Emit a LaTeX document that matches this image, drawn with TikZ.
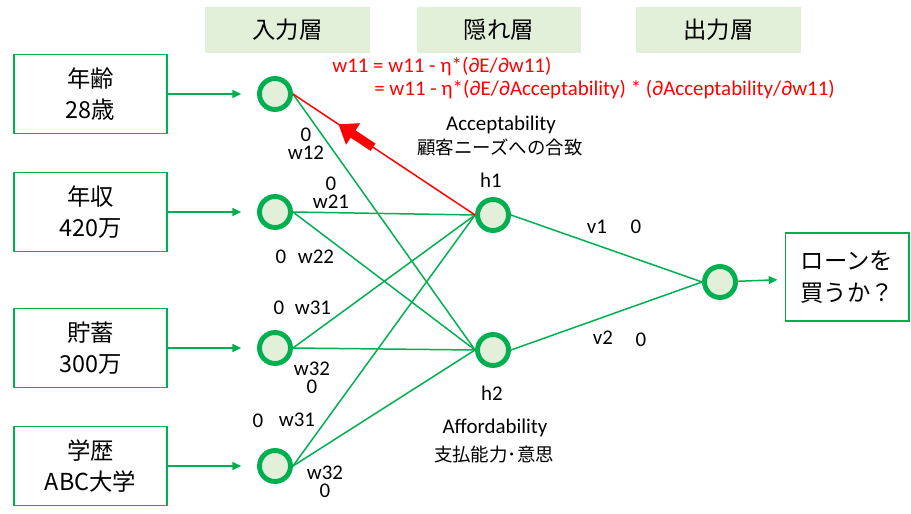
\documentclass[tikz,border=0pt]{standalone}
\usepackage{fontspec}
\setmainfont{Carlito}
\newfontfamily\jp{Noto Sans CJK JP}
\usetikzlibrary{calc, positioning, arrows.meta, shapes}
\definecolor{nngreen}{RGB}{0,176,80}
\definecolor{nnfill}{RGB}{226,240,217}
\definecolor{nnred}{RGB}{255,0,0}

\begin{document}
\begin{tikzpicture}[x=0.02cm, y=-0.02cm,
  neu/.style={circle, draw=nngreen, fill=nnfill, line width=2.8pt, minimum size=0.62cm, inner sep=0pt},
  inbox/.style={draw=nngreen, line width=0.6pt, minimum width=3.06cm, minimum height=1.58cm, align=center, font=\jp\fontsize{13.3}{18}\selectfont},
  layer/.style={fill=nnfill, minimum width=3.3cm, minimum height=0.92cm, font=\jp\fontsize{13.3}{15}\selectfont},
  wt/.style={font=\fontsize{11.9}{10.4}\selectfont, inner sep=0pt, align=center},
  note/.style={font=\jp\fontsize{10.5}{13}\selectfont, inner sep=0pt},
  link/.style={nngreen, line width=0.85pt},
  feed/.style={nngreen, line width=0.85pt, -{Triangle[length=5pt, width=4.5pt]}}]
  \useasboundingbox (0,0) rectangle (911,513);

  % layer titles
  \node[layer] (lin) at (287.5,30) {入力層};
  \node[layer] (lhid) at (499,30) {隠れ層};
  \node[layer] (lout) at (718.5,30) {出力層};

  % inputs
  \node[inbox] (age) at (90.5,94) {年齢\\28歳};
  \node[inbox] (inc) at (90.5,212) {年収\\420万};
  \node[inbox] (sav) at (90.5,348) {貯蓄\\300万};
  \node[inbox] (edu) at (90.5,466) {学歴\\ABC大学};

  % neurons
  \node[neu] (x1) at (275,94) {};
  \node[neu] (x2) at (275,212) {};
  \node[neu] (x3) at (275,348) {};
  \node[neu] (x4) at (275,466) {};
  \node[neu] (h1) at (493,215) {};
  \node[neu] (h2) at (493,350) {};
  \node[neu] (y) at (720,282) {};
  \node[inbox, minimum width=2.48cm, minimum height=1.76cm] (ans) at (847,277) {ローンを\\買うか？};

  \draw[feed, shorten >=9pt] (age) -- (x1);
  \draw[feed, shorten >=9pt] (inc) -- (x2);
  \draw[feed, shorten >=9pt] (sav) -- (x3);
  \draw[feed, shorten >=9pt] (edu) -- (x4);
  \draw[feed, shorten >=4pt] (y) -- (ans);

  \draw[link] (x1.east) -- (h2.west);
  \draw[link] (x2.east) -- (h1.west);
  \draw[link] (x2.east) -- (h2.west);
  \draw[link] (x3.east) -- (h1.west);
  \draw[link] (x3.east) -- (h2.west);
  \draw[link] (x4.east) -- (h1.west);
  \draw[link] (x4.east) -- (h2.west);
  \draw[link] (h1.east) -- (y.west);
  \draw[link] (h2.east) -- (y.west);
  \draw[nnred, line width=0.85pt] (x1.east) -- (h1.west);
  \draw[nnred, line width=5pt, -{Triangle[length=10pt, width=14pt]}] ($(x1.east)!0.44!(h1.west)$) -- ($(x1.east)!0.25!(h1.west)$);

  % weights
  \node[wt] (w12) at (306,144) {0\\w12};
  \node[wt] (w21) at (331,193) {0\\w21};
  \node[wt] (z22) at (281,257) {0};
  \node[wt] (w22) at (316,257) {w22};
  \node[wt] (z31) at (279,308) {0};
  \node[wt] (w31) at (313,308) {w31};
  \node[wt] (w32) at (312,378) {w32\\0};
  \node[wt] (z41) at (258,421) {0};
  \node[wt] (w41) at (297,420) {w31};
  \node[wt] (w42) at (325,482) {w32\\0};
  \node[wt] (v1) at (597,227) {v1};
  \node[wt] (zv1) at (636,227) {0};
  \node[wt] (v2) at (603,338) {v2};
  \node[wt] (zv2) at (641,340) {0};
  \node[wt] (lh1) at (491,180) {h1};
  \node[wt] (lh2) at (492,393) {h2};

  % update rule
  \node[wt, text=nnred, anchor=west] (upd1) at (332,67) {w11 = w11 - η*(∂E/∂w11)};
  \node[wt, text=nnred, anchor=west] (upd2) at (374,90) {= w11 - η*(∂E/∂Acceptability) * (∂Acceptability/∂w11)};

  % hidden unit notes
  \node[wt] (acc) at (501,125) {Acceptability};
  \node[note] (accj) at (500,147) {顧客ニーズへの合致};
  \node[wt] (aff) at (495,428) {Affordability};
  \node[note] (affj) at (494,455) {支払能力･意思};
\end{tikzpicture}
\end{document}
